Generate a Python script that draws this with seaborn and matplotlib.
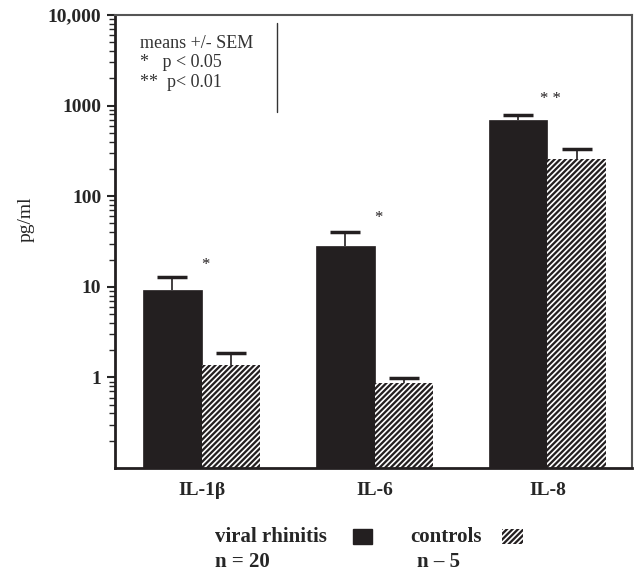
import numpy as np
import pandas as pd
import matplotlib
matplotlib.use("Agg")
import matplotlib.pyplot as plt
import matplotlib.patches as mpatches
import seaborn as sns

# data
cytokines = ["IL-1β", "IL-6", "IL-8"]
groups = ["viral rhinitis", "controls"]
viral_mean = [9.3, 28.5, 685]
viral_upper = [12.9, 40, 795]
control_mean = [1.36, 0.86, 256]
control_upper = [1.88, 0.98, 328]
group_n = ["n = 20", "n \u2013 5"]
star_labels = ["*", "*", "* *"]
star_y = [17.5, 57, 1170]

df = pd.DataFrame({
    "cytokine": cytokines * 2,
    "group": [groups[0]] * 3 + [groups[1]] * 3,
    "value": viral_mean + control_mean,
})

sns.set_style("ticks")
plt.rcParams["font.family"] = ["Liberation Serif", "DejaVu Serif"]
plt.rcParams["hatch.linewidth"] = 1.2

black = "#231f20"
fig = plt.figure(figsize=(6.36, 5.75), dpi=100)
ax = fig.add_axes([0.181, 0.186, 0.813, 0.788])

sns.barplot(data=df, x="cytokine", y="value", hue="group",
            palette=[black, black], width=0.68, errorbar=None,
            legend=False, ax=ax, saturation=1)
ax.set_yscale("log")

# viral bars solid, control bars hatched white on black
for bar in ax.containers[0]:
    bar.set_edgecolor(black)
    bar.set_linewidth(0.5)
for bar in ax.containers[1]:
    bar.set_edgecolor("white")
    bar.set_linewidth(0)
    bar.set_hatch("//////")

# upper-only error bars
for cont, means, ups in [(ax.containers[0], viral_mean, viral_upper),
                         (ax.containers[1], control_mean, control_upper)]:
    xs = np.array([b.get_x() + b.get_width() / 2 for b in cont])
    ax.vlines(xs, means, ups, color=black, lw=1.2)
    ax.hlines(ups, xs - 0.087, xs + 0.087, color=black, lw=2.5)

for i, (s, y) in enumerate(zip(star_labels, star_y)):
    ax.text(i + 0.02, y, s, ha="center", va="center", fontsize=12, color=black)

ax.set_ylim(0.1, 10000)
ax.set_xlim(-0.5, 2.49)
ax.set_yticks([1, 10, 100, 1000, 10000])
ax.set_yticklabels(["1", "10", "100", "1000", "10,000"], fontweight="bold", fontsize=14)
ax.tick_params(axis="x", length=0, labelsize=14, pad=10)
for lbl in ax.get_xticklabels():
    lbl.set_fontweight("bold")
ax.tick_params(axis="y", which="major", length=6, width=1.5, pad=4)
ax.tick_params(axis="y", which="minor", length=4, width=1)
ax.set_xlabel("")
ax.set_ylabel("pg/ml", fontsize=14)
ax.yaxis.set_label_coords(-0.155, 0.55)

for side in ["left", "bottom"]:
    ax.spines[side].set_linewidth(2)
    ax.spines[side].set_color(black)
for side in ["top", "right"]:
    ax.spines[side].set_linewidth(1.5)
    ax.spines[side].set_color("#555555")

# info box
info_lines = ["means +/- SEM", "*   p < 0.05", "**  p< 0.01"]
for k, line in enumerate(info_lines):
    ax.text(0.049, 0.938 - 0.044 * k, line, transform=ax.transAxes,
            fontsize=13, va="center", color="#333333")
ax.plot([0.314, 0.314], [0.786, 0.982], transform=ax.transAxes, color="#333333", lw=1)

# key at the bottom: label, swatch, n below
fig.text(0.338, 0.066, groups[0], fontsize=15, fontweight="bold", va="center")
fig.text(0.645, 0.066, groups[1], fontsize=15, fontweight="bold", va="center")
fig.patches.append(mpatches.Rectangle((0.555, 0.054), 0.030, 0.026, transform=fig.transFigure,
                                      facecolor=black, edgecolor=black, figure=fig))
fig.patches.append(mpatches.Rectangle((0.789, 0.054), 0.033, 0.026, transform=fig.transFigure,
                                      facecolor=black, edgecolor="white", linewidth=0,
                                      hatch="//////", figure=fig))
fig.text(0.338, 0.022, group_n[0], fontsize=15, fontweight="bold", va="center")
fig.text(0.656, 0.022, group_n[1], fontsize=15, fontweight="bold", va="center")

fig.savefig("out.png", dpi=100)
